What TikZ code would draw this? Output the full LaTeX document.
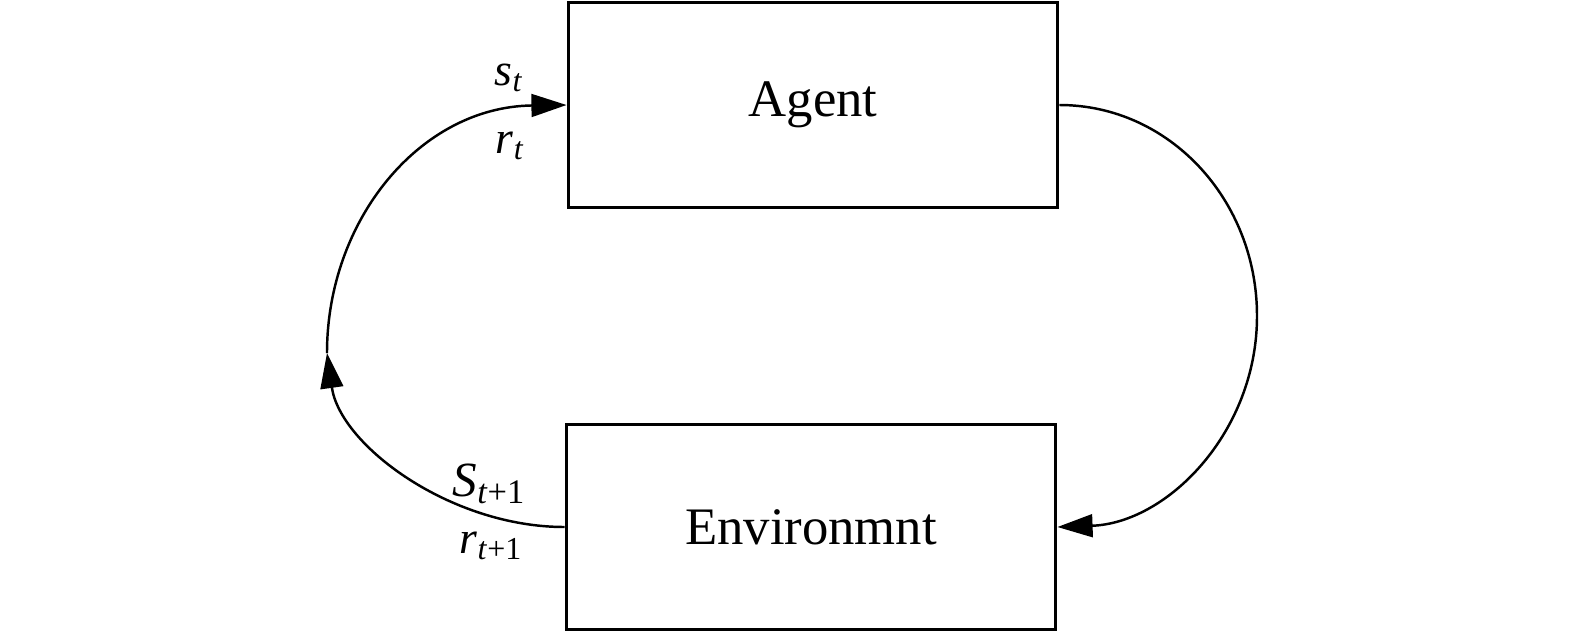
\documentclass[tikz,border=0pt]{standalone}
\usepackage{fontspec}
\setmainfont{Liberation Serif}
\usetikzlibrary{arrows.meta}

\tikzset{
  block/.style={draw, line width=1.7pt, minimum width=9.8cm, minimum height=4.12cm,
    font=\fontsize{30}{36}\selectfont},
  loop/.style={line width=1.4pt, -{Triangle[length=20pt, width=13pt]}},
  lbl/.style={font=\fontsize{26}{30}\selectfont, inner sep=0pt}
}

\begin{document}
\begin{tikzpicture}[x=0.02cm, y=-0.02cm]
  \useasboundingbox (0,0) rectangle (1575,633);

  % the two blocks
  \node[block] (agent) at (813,105) {Agent};
  \node[block] (env) at (811,527) {Environmnt};
  \coordinate (turn) at (327,353);
  \coordinate (far) at (1257,316);

  % loop
  \draw[loop] (agent.east) .. controls +(110,0) and (1257,200) .. (far)
    .. controls (1257,432) and +(110,-4) .. (env.east);
  \draw[loop] (env.west) .. controls (450,527) and (340,445) .. (turn);
  \draw[loop] (turn) .. controls (327,220) and (420,107) .. (agent.west);

  % labels
  \node[lbl] (st) at (509,78) {\textit{s}\textsubscript{\textit{t}}};
  \node[lbl] (rt) at (510,146) {\textit{r}\textsubscript{\textit{t}}};
  \node[lbl, font=\fontsize{28}{32}\selectfont] (snext) at (489,484) {\textit{S}\textsubscript{\textit{t}+1}};
  \node[lbl] (rnext) at (491,546) {\textit{r}\textsubscript{\textit{t}+1}};
\end{tikzpicture}
\end{document}
